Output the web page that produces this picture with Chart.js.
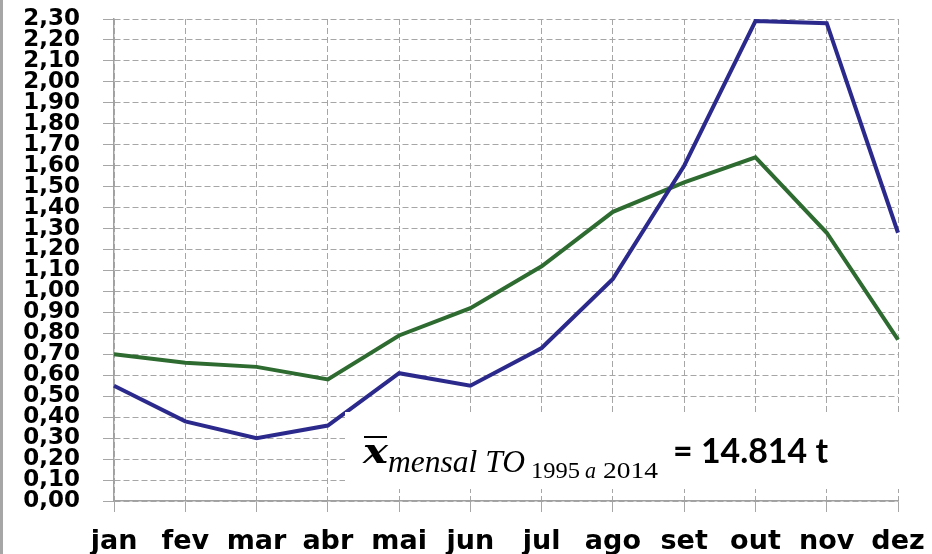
<!DOCTYPE html>
<html>
<head>
<meta charset="utf-8">
<script src="https://cdn.jsdelivr.net/npm/chart.js@4/dist/chart.umd.min.js"></script>
<style>
  html, body { margin: 0; padding: 0; background: #fff; }
  #wrap { position: relative; width: 932px; height: 554px; }
  canvas { display: block; }
</style>
</head>
<body>
<div id="wrap"><canvas id="c" width="932" height="554"></canvas></div>
<script>
const months = ['jan', 'fev', 'mar', 'abr', 'mai', 'jun', 'jul', 'ago', 'set', 'out', 'nov', 'dez'];
const seriesBlue = [0.55, 0.38, 0.30, 0.36, 0.61, 0.55, 0.73, 1.06, 1.60, 2.29, 2.28, 1.28];
const seriesGreen = [0.70, 0.66, 0.64, 0.58, 0.79, 0.92, 1.12, 1.38, 1.52, 1.64, 1.28, 0.77];
const yMin = 0, yMax = 2.3, yStep = 0.1;

function fitText(ctx, text, font, x, y, targetW) {
  ctx.save();
  ctx.font = font;
  ctx.textBaseline = 'alphabetic';
  ctx.textAlign = 'left';
  const w = ctx.measureText(text).width;
  const sx = targetW ? targetW / w : 1;
  ctx.translate(x, y);
  ctx.scale(sx, 1);
  ctx.fillText(text, 0, 0);
  ctx.restore();
}

const annotation = {
  id: 'annotation',
  beforeDraw(chart) {
    const ctx = chart.ctx;
    ctx.save();
    ctx.fillStyle = '#a6a6a6';
    ctx.fillRect(0, 0, 3, chart.height);
    ctx.restore();
  },
  afterDatasetsDraw(chart) {
    const ctx = chart.ctx;
    ctx.save();
    ctx.fillStyle = '#ffffff';
    ctx.fillRect(345, 412, 562, 77);
    ctx.fillStyle = '#000';
    fitText(ctx, 'x', 'italic bold 36px "DejaVu Serif"', 363, 463, 25);
    ctx.fillRect(364, 436, 23, 2);
    fitText(ctx, 'mensal TO', 'italic 32px "Liberation Serif"', 388, 472, 137);
    fitText(ctx, '1995', '23px "Liberation Serif"', 531, 478, 49);
    fitText(ctx, 'a', 'italic 23px "Liberation Serif"', 585, 478, 11);
    fitText(ctx, '2014', '23px "Liberation Serif"', 603, 478, 55);
    fitText(ctx, '= 14.814 t', 'bold 35px Lato', 673, 463, 155);
    ctx.restore();
  }
};

new Chart(document.getElementById('c'), {
  type: 'line',
  data: {
    labels: months,
    datasets: [
      { data: seriesBlue, borderColor: '#2b2a8c', borderWidth: 4, pointRadius: 0, tension: 0, fill: false },
      { data: seriesGreen, borderColor: '#2e6b30', borderWidth: 4, pointRadius: 0, tension: 0, fill: false }
    ]
  },
  options: {
    responsive: false,
    animation: false,
    devicePixelRatio: 1,
    layout: { padding: { left: 0, right: 34, top: 19, bottom: 0 } },
    plugins: { legend: { display: false }, tooltip: { enabled: false } },
    scales: {
      x: {
        offset: false,
        grid: { display: true, color: '#a6a6a6', lineWidth: 1, offset: false, drawTicks: true, tickLength: 11, tickColor: '#a6a6a6', tickBorderDash: [] },
        border: { display: true, color: '#a0a0a0', width: 1.5, dash: [6, 3] },
        ticks: { color: '#000', font: { family: '"DejaVu Sans"', weight: 'bold', size: 27 }, padding: 14, autoSkip: false, maxRotation: 0, minRotation: 0 },
        afterFit(scale) { scale.height = 53; scale.paddingLeft = 0; scale.paddingRight = 0; }
      },
      y: {
        min: yMin, max: yMax,
        grid: { display: true, color: '#a6a6a6', lineWidth: 1, drawTicks: true, tickLength: 11, tickColor: '#a6a6a6', tickBorderDash: [] },
        border: { display: true, color: '#a0a0a0', width: 1.5, dash: [6, 3] },
        ticks: {
          stepSize: yStep, autoSkip: false, color: '#000', padding: 23,
          font: { family: '"DejaVu Sans"', weight: 'bold', size: 23, lineHeight: 0.85 },
          callback: (v) => Number(v).toFixed(2).replace('.', ',')
        },
        afterFit(scale) { scale.width = 114; scale.paddingTop = 0; scale.paddingBottom = 0; }
      }
    }
  },
  plugins: [annotation]
});
</script>
</body>
</html>
